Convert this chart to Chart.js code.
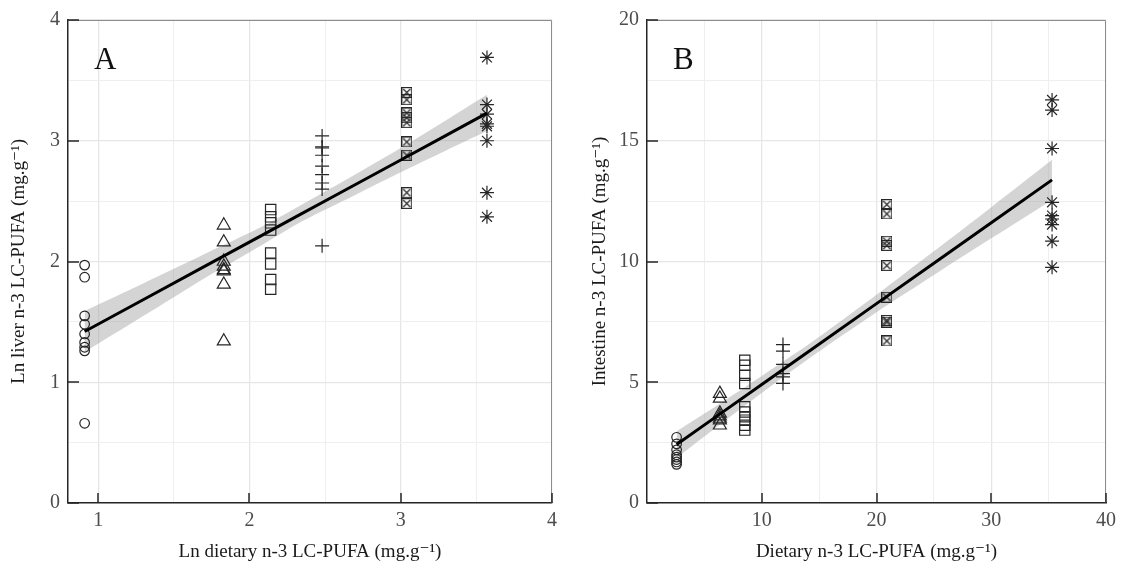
<!DOCTYPE html>
<html>
<head>
<meta charset="utf-8">
<script src="https://cdn.jsdelivr.net/npm/chart.js@4.4.1/dist/chart.umd.min.js"></script>
<style>
  html, body { margin: 0; padding: 0; background: #fff; }
  #wrap { position: relative; width: 1126px; height: 570px; }
  .pane { position: absolute; top: 0; width: 563px; height: 570px; }
</style>
</head>
<body>
<div id="wrap">
  <div class="pane" style="left:0"><canvas id="chartA"></canvas></div>
  <div class="pane" style="left:563px"><canvas id="chartB"></canvas></div>
</div>
<script>
// ---- panel A : ln liver vs ln dietary ----
const aXTicks = [1, 1.5, 2, 2.5, 3, 3.5, 4];
const aYTicks = [0, 0.5, 1, 1.5, 2, 2.5, 3, 3.5, 4];
const aCircleX = 0.91, aCircle = [1.97, 1.87, 1.55, 1.48, 1.40, 1.33, 1.29, 1.26, 0.66];
const aTriX = 1.83, aTri = [2.30, 2.16, 2.00, 1.96, 1.93, 1.92, 1.81, 1.34];
const aSqX = 2.14, aSq = [2.43, 2.37, 2.32, 2.26, 2.07, 1.98, 1.85, 1.77];
const aPlusX = 2.48, aPlus = [3.04, 2.95, 2.94, 2.88, 2.79, 2.72, 2.65, 2.60, 2.13];
const aBoxX = 3.04, aBox = [3.40, 3.34, 3.23, 3.19, 3.15, 2.99, 2.88, 2.57, 2.48];
const aStarX = 3.57, aStar = [3.69, 3.30, 3.22, 3.14, 3.12, 3.00, 2.57, 2.37];
const aFitX = [0.91, 1.3, 1.7, 2.1, 2.33, 2.6, 3.0, 3.3, 3.57];
const aFit = [1.42, 1.685, 1.957, 2.229, 2.386, 2.569, 2.841, 3.045, 3.229];
const aUpper = [1.59, 1.82, 2.06, 2.30, 2.46, 2.65, 2.94, 3.17, 3.38];
const aLower = [1.25, 1.55, 1.86, 2.15, 2.32, 2.49, 2.74, 2.92, 3.08];

// ---- panel B : intestine vs dietary ----
const bXTicks = [5, 10, 15, 20, 25, 30, 35, 40];
const bYTicks = [0, 2.5, 5, 7.5, 10, 12.5, 15, 17.5, 20];
const bCircleX = 2.58, bCircle = [2.72, 2.45, 2.20, 2.00, 1.90, 1.80, 1.70, 1.60];
const bTriX = 6.35, bTri = [4.53, 4.33, 3.71, 3.60, 3.50, 3.43, 3.22];
const bSqX = 8.52, bSq = [5.91, 5.70, 5.29, 4.95, 3.98, 3.77, 3.57, 3.43, 3.22, 3.02];
const bPlusX = 11.85, bPlus = [6.56, 6.29, 5.74, 5.36, 5.22, 4.95];
const bBoxX = 20.9, bBox = [12.36, 11.97, 10.84, 10.66, 9.83, 8.52, 7.56, 7.49, 6.71];
const bStarX = 35.3, bStar = [16.69, 16.27, 14.68, 12.45, 11.90, 11.76, 11.53, 10.84, 9.76];
const bFitX = [2.58, 6, 10, 14.8, 20, 25, 30, 35.3];
const bFit = [2.42, 3.566, 4.906, 6.514, 8.256, 9.931, 11.606, 13.38];
const bUpper = [2.97, 4.01, 5.26, 6.81, 8.62, 10.42, 12.25, 14.21];
const bLower = [1.87, 3.12, 4.56, 6.21, 7.90, 9.44, 10.96, 12.55];

const INK = '#262626';
const SERIF = '"Liberation Serif", "DejaVu Serif", serif';

// box with an x inside, used as a point style
function boxX(size) {
    var c = document.createElement('canvas');
    c.width = size; c.height = size;
    var g = c.getContext('2d');
    g.strokeStyle = INK; g.lineWidth = 1.2;
    g.strokeRect(0.6, 0.6, size - 1.2, size - 1.2);
    g.beginPath();
    g.moveTo(2, 2); g.lineTo(size - 2, size - 2);
    g.moveTo(size - 2, 2); g.lineTo(2, size - 2);
    g.stroke();
    return c;
}

function pts(x, ys) { return ys.map(y => ({ x: x, y: y })); }
function xy(xs, ys) { return xs.map((x, i) => ({ x: x, y: ys[i] })); }

function markers(x, ys, style, r) {
    return {
        type: 'scatter', data: pts(x, ys), pointStyle: style, pointRadius: r, order: 5,
        borderColor: INK, backgroundColor: 'rgba(0,0,0,0)', borderWidth: 1.2, pointHoverRadius: r
    };
}

function isMajor(v, step) {
    const r = v / step;
    return Math.abs(r - Math.round(r)) < 1e-6;
}

// inward ticks, top/right frame and panel letter
const framePlugin = {
    id: 'frame',
    afterDraw(chart, args, opts) {
        const ctx = chart.ctx, a = chart.chartArea;
        const xs = chart.scales.x, ys = chart.scales.y;
        ctx.save();
        ctx.strokeStyle = '#8c8c8c'; ctx.lineWidth = 1;
        ctx.beginPath();
        ctx.moveTo(a.left, a.top + 0.5); ctx.lineTo(a.right - 0.5, a.top + 0.5); ctx.lineTo(a.right - 0.5, a.bottom);
        ctx.stroke();
        ctx.strokeStyle = INK; ctx.lineWidth = 1.5;
        ctx.beginPath();
        xs.ticks.forEach(t => {
            if (!isMajor(t.value, opts.xMajor)) return;
            const px = Math.round(xs.getPixelForValue(t.value));
            ctx.moveTo(px, a.bottom); ctx.lineTo(px, a.bottom - 10);
        });
        ys.ticks.forEach(t => {
            if (!isMajor(t.value, opts.yMajor)) return;
            const py = Math.round(ys.getPixelForValue(t.value));
            ctx.moveTo(a.left, py); ctx.lineTo(a.left + 11, py);
        });
        ctx.stroke();
        ctx.fillStyle = '#111';
        ctx.font = '31px ' + SERIF;
        ctx.textBaseline = 'alphabetic';
        ctx.fillText(opts.letter, a.left + 26, a.top + 49);
        ctx.restore();
    }
};

function makeChart(id, cfg) {
    const ctx = document.getElementById(id);
    const band = 'rgba(160,160,160,0.45)';
    return new Chart(ctx, {
        data: {
            datasets: [
                // confidence band
                { type: 'line', data: xy(cfg.fitX, cfg.upper), borderWidth: 0, pointRadius: 0, order: 10,
                  backgroundColor: band, fill: '+1', tension: 0.3 },
                { type: 'line', data: xy(cfg.fitX, cfg.lower), borderWidth: 0, pointRadius: 0, order: 11,
                  backgroundColor: band, fill: false, tension: 0.3 },
                markers(cfg.circleX, cfg.circle, 'circle', 4.8),
                markers(cfg.triX, cfg.tri, 'triangle', 7.5),
                markers(cfg.sqX, cfg.sq, 'rect', 7.3),
                markers(cfg.plusX, cfg.plus, 'cross', 7),
                markers(cfg.boxX, cfg.box, boxX(11), 5.5),
                markers(cfg.starX, cfg.star, 'star', 7),
                // fitted line
                { type: 'line', data: xy(cfg.fitX, cfg.fit), borderColor: '#000', borderWidth: 3,
                  pointRadius: 0, fill: false, tension: 0, order: 0 }
            ]
        },
        options: {
            responsive: false,
            animation: false,
            events: [],
            layout: { padding: { top: 19, right: cfg.padRight, left: cfg.padLeft, bottom: 0 } },
            plugins: {
                legend: { display: false },
                tooltip: { enabled: false },
                frame: { letter: cfg.letter, xMajor: cfg.xMajor, yMajor: cfg.yMajor }
            },
            scales: {
                x: {
                    type: 'linear', min: cfg.xMin, max: cfg.xMax,
                    afterFit: s => { s.height = 67; },
                    afterBuildTicks: s => { s.ticks = cfg.xTicks.map(v => ({ value: v })); },
                    ticks: {
                        autoSkip: false, maxRotation: 0,
                        color: '#4d4d4d', padding: 6, font: { family: SERIF, size: 20 },
                        callback: v => isMajor(v, cfg.xMajor) ? v : ''
                    },
                    grid: {
                        drawTicks: false,
                        color: c => isMajor(c.tick.value, cfg.xMajor) ? '#e6e6e6' : '#efefef',
                        lineWidth: c => isMajor(c.tick.value, cfg.xMajor) ? 1.3 : 1
                    },
                    border: { display: true, color: INK, width: 1.5 },
                    title: { display: true, text: cfg.xTitle, color: '#1a1a1a',
                             font: { family: SERIF, size: 19 }, padding: { top: 0, bottom: 7 } }
                },
                y: {
                    type: 'linear', min: cfg.yMin, max: cfg.yMax,
                    afterFit: s => { s.width = cfg.yWidth; },
                    afterBuildTicks: s => { s.ticks = cfg.yTicks.map(v => ({ value: v })); },
                    ticks: {
                        autoSkip: false,
                        color: '#4d4d4d', padding: 8, font: { family: SERIF, size: 20 },
                        callback: v => isMajor(v, cfg.yMajor) ? v : ''
                    },
                    grid: {
                        drawTicks: false,
                        color: c => isMajor(c.tick.value, cfg.yMajor) ? '#e6e6e6' : '#efefef',
                        lineWidth: c => isMajor(c.tick.value, cfg.yMajor) ? 1.3 : 1
                    },
                    border: { display: true, color: INK, width: 1.5 },
                    title: { display: true, text: cfg.yTitle, color: '#1a1a1a',
                             font: { family: SERIF, size: 19 }, padding: { top: 0, bottom: 0 } }
                }
            }
        },
        plugins: [framePlugin]
    });
}

document.getElementById('chartA').width = 563; document.getElementById('chartA').height = 570;
document.getElementById('chartB').width = 563; document.getElementById('chartB').height = 570;

makeChart('chartA', {
    letter: 'A', xMin: 0.8, xMax: 4, yMin: 0, yMax: 4, xMajor: 1, yMajor: 1,
    xTicks: aXTicks, yTicks: aYTicks,
    padLeft: 8, padRight: 7, yWidth: 60,
    xTitle: 'Ln dietary n-3 LC-PUFA (mg.g⁻¹)', yTitle: 'Ln liver n-3 LC-PUFA (mg.g⁻¹)',
    circleX: aCircleX, circle: aCircle, triX: aTriX, tri: aTri, sqX: aSqX, sq: aSq,
    plusX: aPlusX, plus: aPlus, boxX: aBoxX, box: aBox, starX: aStarX, star: aStar,
    fitX: aFitX, fit: aFit, upper: aUpper, lower: aLower
});

makeChart('chartB', {
    letter: 'B', xMin: 0, xMax: 40, yMin: 0, yMax: 20, xMajor: 10, yMajor: 5,
    xTicks: bXTicks, yTicks: bYTicks,
    padLeft: 26, padRight: 20, yWidth: 58,
    xTitle: 'Dietary n-3 LC-PUFA (mg.g⁻¹)', yTitle: 'Intestine n-3 LC-PUFA (mg.g⁻¹)',
    circleX: bCircleX, circle: bCircle, triX: bTriX, tri: bTri, sqX: bSqX, sq: bSq,
    plusX: bPlusX, plus: bPlus, boxX: bBoxX, box: bBox, starX: bStarX, star: bStar,
    fitX: bFitX, fit: bFit, upper: bUpper, lower: bLower
});
</script>
</body>
</html>
